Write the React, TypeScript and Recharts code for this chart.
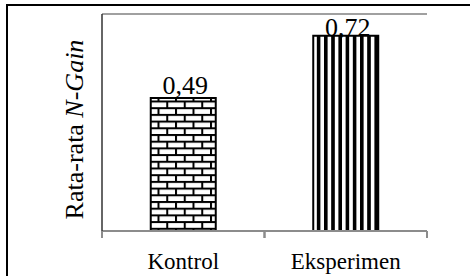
import { BarChart, Bar, XAxis, YAxis, CartesianGrid, LabelList, Cell } from "recharts"

const groups = ["Kontrol", "Eksperimen"]
const nGain = [0.49, 0.72]
const valueLabels = ["0,49", "0,72"]
const yTicks = [0, 0.2, 0.4, 0.6, 0.8]
const fills = ["url(#bricks)", "url(#stripes)"]

const data = groups.map((name, i) => ({ name, value: nGain[i], label: valueLabels[i] }))

const serif = { fontFamily: "'Liberation Serif', 'Times New Roman', Times, serif" }

function CatTick(props: any) {
  const { x, y, payload } = props
  const half = payload.offset || 0
  return (
    <g>
      <line x1={x - half} x2={x - half} y1={y} y2={y + 7} stroke="#8c8c8c" strokeWidth={2} />
      <line x1={x + half} x2={x + half} y1={y} y2={y + 7} stroke="#8c8c8c" strokeWidth={2} />
      <text x={x} y={y + 38} textAnchor="middle" style={serif} fontSize={23} fill="#000">
        {payload.value}
      </text>
    </g>
  )
}

function ValueLabel(props: any) {
  const { x, y, width, value } = props
  // label sits just above the bar, pushed down when it would leave the plot
  const base = Math.max(y - 4, 36)
  return (
    <text x={x + width / 2 + 2} y={base} textAnchor="middle" style={serif} fontSize={26} fill="#000">
      {value}
    </text>
  )
}

function YTitle(props: any) {
  const { viewBox } = props
  const cx = viewBox.x + viewBox.width - 19
  const cy = viewBox.y + viewBox.height / 2 + 7
  return (
    <text
      x={cx}
      y={cy}
      transform={`rotate(-90, ${cx}, ${cy})`}
      textAnchor="middle"
      style={serif}
      fontSize={26}
      fill="#000"
    >
      Rata-rata <tspan fontStyle="italic">N-Gain</tspan>
    </text>
  )
}

export default function App() {
  return (
    <div style={{ position: "fixed", left: 0, top: 0, width: 470, height: 276, background: "#fff", overflow: "hidden" }}>
      <svg width={470} height={276} style={{ position: "absolute", left: 0, top: 0 }}>
        <line x1={6} x2={470} y1={5} y2={5} stroke="#000" strokeWidth={2} />
        <line x1={7} x2={7} y1={4} y2={276} stroke="#000" strokeWidth={2} />
      </svg>
      <div style={{ position: "absolute", left: 0, top: 0 }}>
        <BarChart
          width={470}
          height={276}
          data={data}
          margin={{ top: 14, right: 43, left: 0, bottom: 0 }}
          barCategoryGap="30%"
        >
          <defs>
            <pattern id="bricks" patternUnits="userSpaceOnUse" width={17.5} height={13.4}>
              <rect width={17.5} height={13.4} fill="#fff" />
              <rect x={0} y={0} width={17.5} height={2} fill="#000" />
              <rect x={0} y={6.7} width={17.5} height={2} fill="#000" />
              <rect x={0} y={0} width={2} height={6.7} fill="#000" />
              <rect x={8.75} y={6.7} width={2} height={6.7} fill="#000" />
            </pattern>
            <pattern id="stripes" patternUnits="userSpaceOnUse" width={7.2} height={10}>
              <rect width={7.2} height={10} fill="#fff" />
              <rect x={0} y={0} width={3.6} height={10} fill="#000" />
            </pattern>
          </defs>
          <CartesianGrid vertical={false} stroke="#a0a0a0" strokeWidth={2} />
          <XAxis
            dataKey="name"
            height={45}
            stroke="#8c8c8c"
            strokeWidth={2}
            tickLine={false}
            tickSize={0}
            tickMargin={0}
            tick={<CatTick />}
          />
          <YAxis
            width={102}
            domain={[0, 0.8]}
            ticks={yTicks}
            tick={false}
            tickLine={false}
            stroke="#333"
            strokeWidth={1.5}
            label={<YTitle />}
          />
          <Bar dataKey="value" stroke="#000" strokeWidth={2} isAnimationActive={false}>
            {data.map((d, i) => (
              <Cell key={d.name} fill={fills[i]} />
            ))}
            <LabelList dataKey="label" content={<ValueLabel />} />
          </Bar>
        </BarChart>
      </div>
    </div>
  )
}
